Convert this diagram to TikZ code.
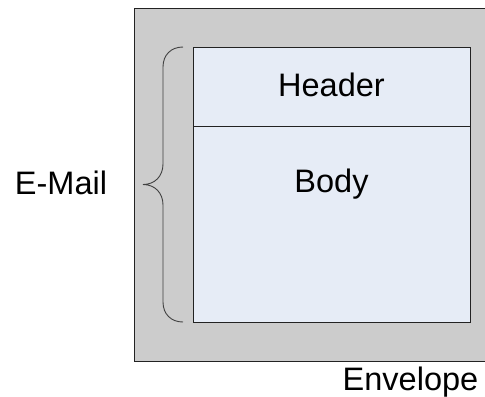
\documentclass[tikz,border=0pt]{standalone}
\usepackage{fontspec}
\setmainfont{Liberation Sans}
\definecolor{envgray}{HTML}{CCCCCC}
\definecolor{mailblue}{HTML}{E6ECF6}
\definecolor{edge}{HTML}{222222}
\begin{document}
\begin{tikzpicture}[x=1bp,y=-1bp,
  box/.style={draw=edge,line width=0.9bp,inner sep=0pt,outer sep=0pt},
  lbl/.style={font=\fontsize{32.5bp}{38bp}\selectfont,inner sep=0pt,anchor=base}]
\useasboundingbox (0,0) rectangle (485,396);
\node[box,fill=envgray,minimum width=356bp,minimum height=353.5bp] (env) at (312,184.75) {};
\node[box,fill=mailblue,minimum width=277bp,minimum height=79bp] (header) at (331.5,86.5) {};
\node[box,fill=mailblue,minimum width=277bp,minimum height=196.5bp] (body) at (331.5,224.25) {};
\node[lbl] (headerlbl) at (331.5,96.5) {Header};
\node[lbl] (bodylbl) at (331.5,192) {Body};
\node[lbl] (maillbl) at (61,194) {E-Mail};
\node[lbl] (envlbl) at (410.5,390) {Envelope};
\draw[draw=black!75,line width=0.9bp]
  (183,47) .. controls (171,47) and (163,55) .. (163,67) -- (163,164)
  .. controls (163,176) and (155,184.5) .. (143,184.5)
  .. controls (155,184.5) and (163,193) .. (163,205) -- (163,302)
  .. controls (163,314) and (171,322) .. (183,322);
\end{tikzpicture}
\end{document}
